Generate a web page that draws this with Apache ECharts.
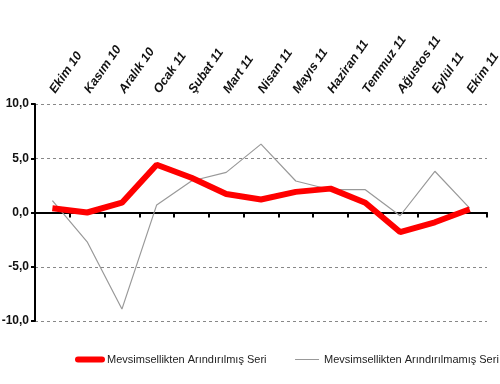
<!DOCTYPE html>
<html><head><meta charset="utf-8">
<script src="https://cdn.jsdelivr.net/npm/echarts@6/dist/echarts.min.js"></script>
<style>html,body{margin:0;padding:0;background:#fff}#c{width:500px;height:384px}</style>
</head><body><div id="c"></div>
<script>
const categories = ['Ekim 10','Kasım 10','Aralık 10','Ocak 11','Şubat 11','Mart 11','Nisan 11','Mayıs 11','Haziran 11','Temmuz 11','Ağustos 11','Eylül 11','Ekim 11'];
const seasonallyAdjusted = [0.4, 0.0, 0.9, 4.4, 3.2, 1.7, 1.2, 1.9, 2.2, 0.9, -1.8, -0.9, 0.3];
const notAdjusted = [1.1, -2.7, -8.9, 0.7, 2.9, 3.7, 6.3, 2.9, 2.1, 2.1, -0.3, 3.8, 0.4];
const seriesNames = ['Mevsimsellikten Arındırılmış Seri', 'Mevsimsellikten Arındırılmamış Seri'];

const chart = echarts.init(document.getElementById('c'));
chart.setOption({
  animation: false,
  grid: { left: 35, right: 13, top: 104, bottom: 63, outerBoundsMode: 'none' },
  legend: {
    bottom: 14, left: 70, width: 430, itemGap: 28, itemWidth: 24, itemHeight: 8,
    itemStyle: { opacity: 0 },
    textStyle: { fontFamily: 'Liberation Sans', fontSize: 11, color: '#222' },
    data: [
      { name: seriesNames[0], lineStyle: { width: 6, cap: 'round', color: '#ff0000' } },
      { name: seriesNames[1], lineStyle: { width: 1, color: '#999' } }
    ]
  },
  xAxis: [
    {
      type: 'category', data: categories, position: 'bottom',
      axisLine: { onZero: true, lineStyle: { color: '#000', width: 2 } },
      axisTick: { show: true, interval: 0, length: 5, lineStyle: { color: '#000', width: 2 } },
      axisLabel: { show: false }, splitLine: { show: false }
    },
    {
      type: 'category', data: categories, position: 'top',
      axisLine: { show: false }, axisTick: { show: false },
      axisLabel: { show: true, rotate: -55, margin: 12, interval: 0,
        fontFamily: 'Liberation Sans', fontSize: 12.5, fontWeight: 'bold', fontStyle: 'italic', color: '#111' }
    }
  ],
  yAxis: {
    type: 'value', min: -10, max: 10, interval: 5,
    axisLine: { show: true, lineStyle: { color: '#000', width: 2 } },
    axisTick: { show: true, length: 4, lineStyle: { color: '#000', width: 2 } },
    axisLabel: { margin: 6, fontFamily: 'Liberation Sans', fontSize: 12, fontWeight: 'bold', color: '#111',
      formatter: v => v.toFixed(1).replace('.', ',') },
    splitLine: { show: true, lineStyle: { color: '#888', type: [3, 3], width: 1 } }
  },
  series: [
    { name: seriesNames[0], type: 'line', data: seasonallyAdjusted, xAxisIndex: 0, symbol: 'none', z: 3,
      lineStyle: { color: '#ff0000', width: 6 }, itemStyle: { color: '#ff0000' } },
    { name: seriesNames[1], type: 'line', data: notAdjusted, xAxisIndex: 0, symbol: 'none', z: 2,
      lineStyle: { color: '#999', width: 1.2 }, itemStyle: { color: '#999' } }
  ]
});
</script></body></html>
